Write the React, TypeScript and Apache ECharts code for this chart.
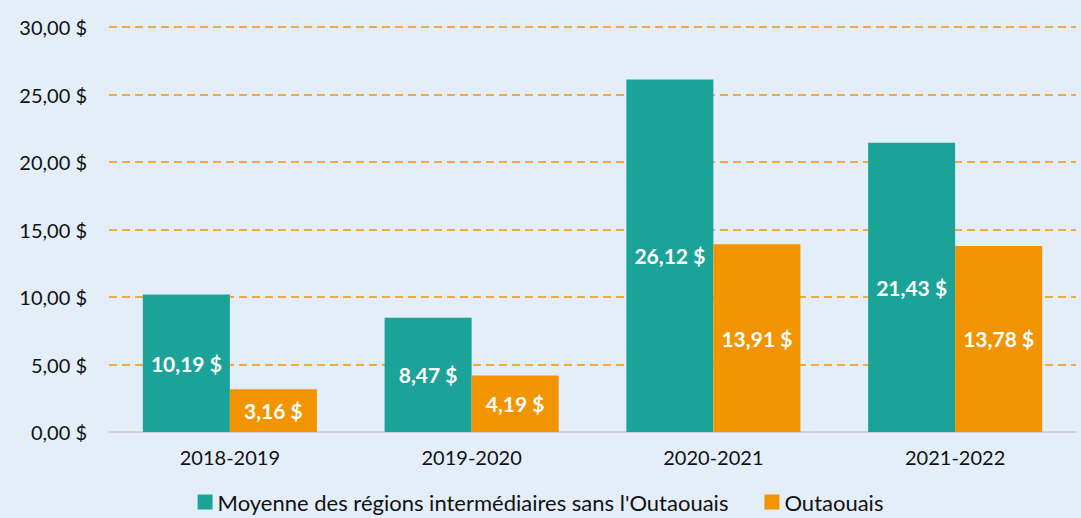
import React, { useEffect, useRef } from "react";
import * as echarts from "echarts";

const categories = ["2018-2019", "2019-2020", "2020-2021", "2021-2022"];
const seriesNames = ["Moyenne des régions intermédiaires sans l'Outaouais", "Outaouais"];
const moyenne = [10.19, 8.47, 26.12, 21.43];
const outaouais = [3.16, 4.19, 13.91, 13.78];

const fmt = (v: number) => v.toFixed(2).replace(".", ",") + " $";
const FONT = "Lato";

export default function App() {
  const ref = useRef<HTMLDivElement>(null);
  useEffect(() => {
    const chart = echarts.init(ref.current!, null, { renderer: "svg" });
    const label = {
      show: true,
      position: "inside" as const,
      color: "#ffffff",
      fontWeight: "bold" as const,
      fontSize: 21,
      fontFamily: FONT,
      formatter: (p: any) => fmt(p.value),
    };
    chart.setOption({
      animation: false,
      backgroundColor: "#E4EEF9",
      textStyle: { fontFamily: FONT },
      grid: { left: 109, right: 5, top: 27, bottom: 86 },
      legend: {
        bottom: 0,
        left: "center",
        itemWidth: 15,
        itemHeight: 15,
        itemGap: 36,
        icon: "rect",
        textStyle: { fontSize: 22, color: "#111", fontFamily: FONT },
        data: seriesNames,
      },
      xAxis: {
        type: "category",
        data: categories,
        axisLine: { lineStyle: { color: "#d3d3d3", width: 2 } },
        axisTick: { show: false },
        axisLabel: { fontSize: 20, color: "#111", margin: 15, fontFamily: FONT },
      },
      yAxis: {
        type: "value",
        min: 0,
        max: 30,
        interval: 5,
        axisLabel: { fontSize: 20, color: "#111", margin: 22, fontFamily: FONT, formatter: (v: number) => fmt(v) },
        splitLine: { showMinLine: false, lineStyle: { color: "#F29400", type: [8, 5], width: 1.5 } },
        axisLine: { show: false },
      },
      series: [
        {
          name: seriesNames[0],
          type: "bar",
          data: moyenne,
          barWidth: "36%",
          barGap: "0%",
          itemStyle: { color: "#1BA39A" },
          label,
        },
        {
          name: seriesNames[1],
          type: "bar",
          data: outaouais,
          barWidth: "36%",
          itemStyle: { color: "#F29400" },
          label,
        },
      ],
    });
    return () => chart.dispose();
  }, []);
  return <div ref={ref} style={{ width: 1081, height: 518, position: "fixed", left: 0, top: 0 }} />;
}
